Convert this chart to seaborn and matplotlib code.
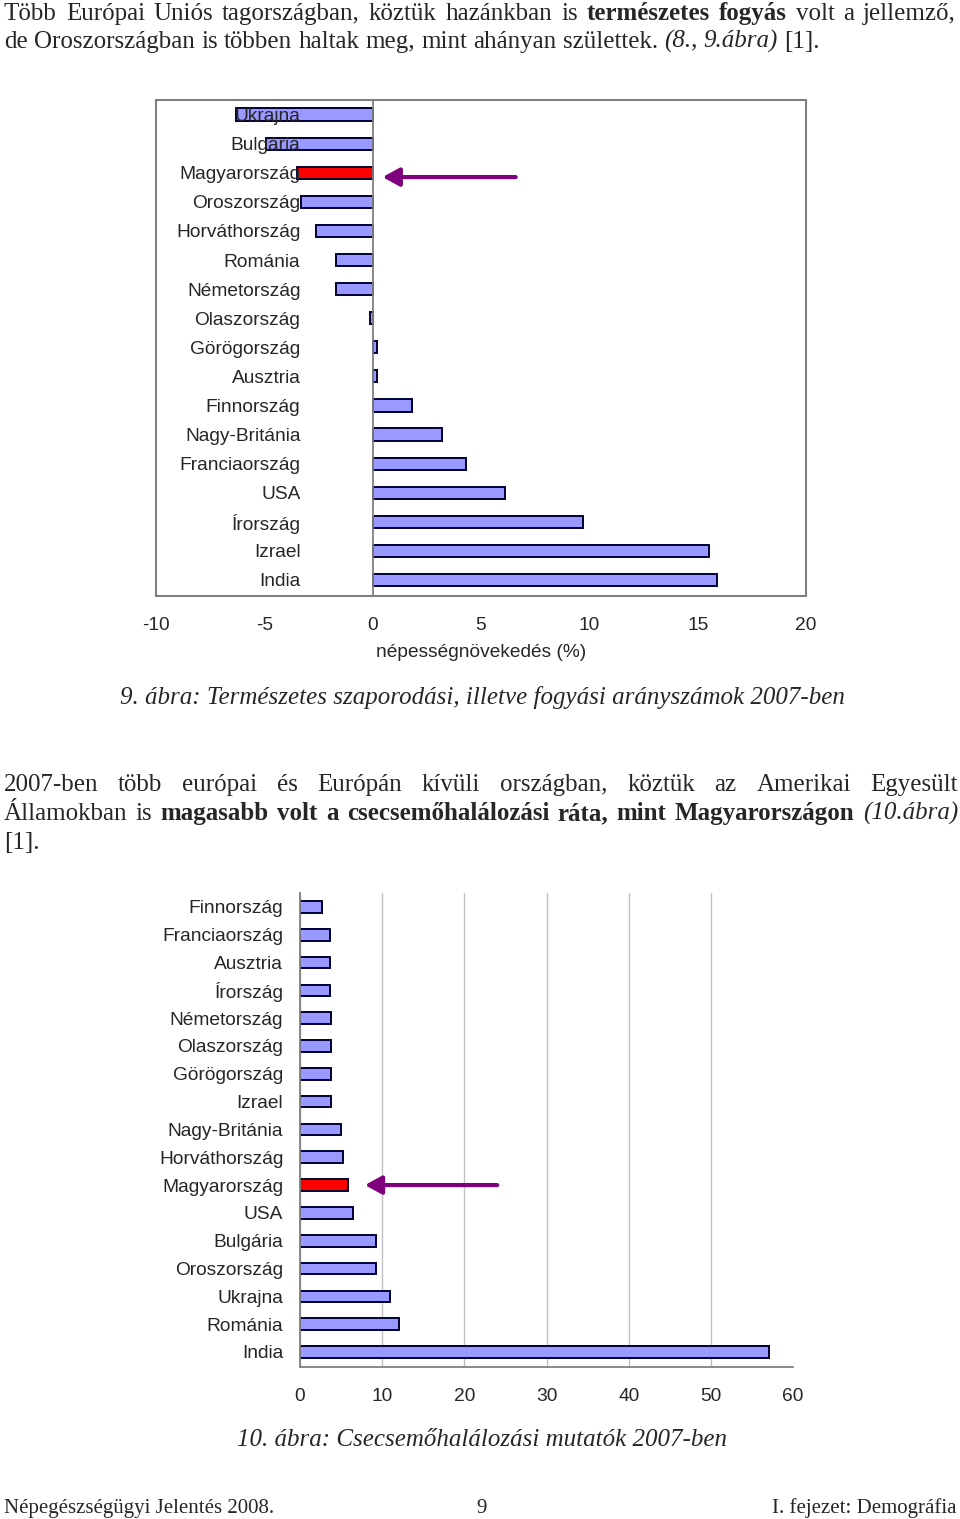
import numpy as np
import pandas as pd
import matplotlib
matplotlib.use("Agg")
import matplotlib.pyplot as plt
import seaborn as sns
from matplotlib.patches import Rectangle

# 9. ábra: természetes szaporodás / fogyás 2007
growth_countries = ["Ukrajna", "Bulgária", "Magyarország", "Oroszország", "Horváthország",
                    "Románia", "Németország", "Olaszország", "Görögország", "Ausztria",
                    "Finnország", "Nagy-Británia", "Franciaország", "USA", "Írország",
                    "Izrael", "India"]
growth_values = [-6.3, -4.9, -3.5, -3.3, -2.6, -1.7, -1.7, -0.1, 0.2, 0.2,
                 1.8, 3.2, 4.3, 6.1, 9.7, 15.5, 15.9]
growth_ticks = [-10, -5, 0, 5, 10, 15, 20]

# 10. ábra: csecsemőhalálozás 2007
infant_countries = ["Finnország", "Franciaország", "Ausztria", "Írország", "Németország",
                    "Olaszország", "Görögország", "Izrael", "Nagy-Británia", "Horváthország",
                    "Magyarország", "USA", "Bulgária", "Oroszország", "Ukrajna",
                    "Románia", "India"]
infant_values = [2.7, 3.7, 3.7, 3.7, 3.8, 3.8, 3.8, 3.8, 5.0, 5.2,
                 5.9, 6.5, 9.2, 9.2, 10.9, 12.0, 57.1]
infant_ticks = [0, 10, 20, 30, 40, 50, 60]

highlight = "Magyarország"

W, H = 960, 1519
SERIF = "Liberation Serif"
SANS = "Liberation Sans"
BLUE = "#9999FF"
RED = "#FF0000"
EDGE = "#000033"
GRAY = "#808080"
PURPLE = "#7F007F"
TXT = 18      # body text size
CH = 13.8     # chart text size

sns.set_style("white")
plt.rcParams["font.family"] = [SANS, "DejaVu Sans"]

fig = plt.figure(figsize=(W / 100, H / 100), dpi=100)


def fx(px):
    return px / W


def fy(px):
    return 1 - px / H


def text_line(runs, y, x0=4, x1=None, size=TXT):
    """place words of a paragraph line, justified when x1 is given"""
    renderer = fig.canvas.get_renderer()
    words = []
    for txt, weight, style in runs:
        for w in txt.split():
            words.append(fig.text(0, fy(y), w, family=SERIF, size=size,
                                  weight=weight, style=style, va="baseline"))
    widths = [t.get_window_extent(renderer).width for t in words]
    if x1 is None:
        gap = 0.25 * size * 100 / 72
    else:
        gap = (x1 - x0 - sum(widths)) / (len(words) - 1)
    x = x0
    for t, w in zip(words, widths):
        t.set_x(fx(x))
        x += w + gap


# paragraph above chart 9
text_line([("Több Európai Uniós tagországban, köztük hazánkban is", "normal", "normal"),
           ("természetes fogyás", "bold", "normal"),
           ("volt a jellemző,", "normal", "normal")], 20, x1=956)
text_line([("de Oroszországban is többen haltak meg, mint ahányan születtek.", "normal", "normal"),
           ("(8., 9.ábra)", "normal", "italic"),
           ("[1].", "normal", "normal")], 48)

# ---- chart 9
ax1 = fig.add_axes([fx(156), fy(596), 650 / W, 496 / H])
df1 = pd.DataFrame({"country": growth_countries, "value": growth_values})
pal1 = {c: (RED if c == highlight else BLUE) for c in growth_countries}
sns.barplot(data=df1, x="value", y="country", hue="country", palette=pal1,
            legend=False, orient="h", width=0.42, saturation=1,
            edgecolor=EDGE, linewidth=1.4, ax=ax1)
ax1.set_axisbelow(False)  # labels sit on top of the bars, like in the original
ax1.set_xlim(-10, 20)
ax1.set_ylim(16.55, -0.48)
ax1.set_xticks(growth_ticks)
ax1.set_xticklabels([str(t) for t in growth_ticks])
ax1.spines["left"].set_position(("data", 0))
for s in ["top", "right"]:
    ax1.spines[s].set_visible(False)
for s in ["left", "bottom"]:
    ax1.spines[s].set_color(GRAY)
    ax1.spines[s].set_linewidth(1.3)
ax1.add_patch(Rectangle((0, 0), 1, 1, transform=ax1.transAxes, fill=False,
                        edgecolor=GRAY, lw=1.5, clip_on=False))
ax1.set_yticks(np.arange(-0.5, len(growth_countries), 1), minor=True)
ax1.tick_params(axis="y", which="major", length=0, pad=52, labelsize=CH)
ax1.tick_params(axis="y", which="minor", length=4, color=GRAY, direction="out")
ax1.tick_params(axis="x", length=5, color=GRAY, pad=10, labelsize=CH)
ax1.set_ylabel("")
ax1.set_xlabel("népességnövekedés (%)", fontsize=CH)
ax1.xaxis.set_label_coords(0.5, -0.097)
ax1.annotate("", xy=(0.46, 2.15), xytext=(6.6, 2.15),
             arrowprops=dict(arrowstyle="-|>,head_length=1.0,head_width=0.55",
                             color=PURPLE, lw=3, mutation_scale=10,
                             shrinkA=0, shrinkB=0))

fig.text(fx(482), fy(704), "9. ábra: Természetes szaporodási, illetve fogyási arányszámok 2007-ben",
         ha="center", va="baseline", family=SERIF, style="italic", size=TXT)

# paragraph above chart 10
text_line([("2007-ben több európai és Európán kívüli országban, köztük az Amerikai Egyesült",
            "normal", "normal")], 791, x1=958)
text_line([("Államokban is", "normal", "normal"),
           ("magasabb volt a csecsemőhalálozási ráta, mint Magyarországon", "bold", "normal"),
           ("(10.ábra)", "normal", "italic")], 820, x1=958)
text_line([("[1].", "normal", "normal")], 849)

# ---- chart 10
ax2 = fig.add_axes([fx(300), fy(1367), 493 / W, 474 / H])
df2 = pd.DataFrame({"country": infant_countries, "value": infant_values})
pal2 = {c: (RED if c == highlight else BLUE) for c in infant_countries}
sns.barplot(data=df2, x="value", y="country", hue="country", palette=pal2,
            legend=False, orient="h", width=0.42, saturation=1,
            edgecolor=EDGE, linewidth=1.4, ax=ax2)
ax2.set_xlim(0, 60)
ax2.set_ylim(16.54, -0.47)
ax2.set_xticks(infant_ticks)
ax2.set_xticklabels([str(t) for t in infant_ticks])
ax2.xaxis.grid(True, color="#C0C0C0", lw=1)
ax2.set_axisbelow(True)
ax2.get_xgridlines()[-1].set_visible(False)
for s in ["top", "right"]:
    ax2.spines[s].set_visible(False)
for s in ["left", "bottom"]:
    ax2.spines[s].set_color(GRAY)
    ax2.spines[s].set_linewidth(1.3)
ax2.set_yticks(np.arange(-0.5, len(infant_countries), 1), minor=True)
ax2.tick_params(axis="y", which="major", length=0, pad=12, labelsize=CH)
ax2.tick_params(axis="y", which="minor", length=4, color=GRAY, direction="out")
ax2.tick_params(axis="x", length=5, color=GRAY, pad=10, labelsize=CH)
ax2.set_ylabel("")
ax2.set_xlabel("")
ax2.annotate("", xy=(7.9, 10), xytext=(24, 10),
             arrowprops=dict(arrowstyle="-|>,head_length=1.0,head_width=0.55",
                             color=PURPLE, lw=3, mutation_scale=10,
                             shrinkA=0, shrinkB=0))

fig.text(fx(482), fy(1446), "10. ábra: Csecsemőhalálozási mutatók 2007-ben",
         ha="center", va="baseline", family=SERIF, style="italic", size=TXT)

# footer
fig.text(fx(4), fy(1513), "Népegészségügyi Jelentés 2008.", ha="left", va="baseline",
         family=SERIF, size=15)
fig.text(fx(482), fy(1513), "9", ha="center", va="baseline", family=SERIF, size=15)
fig.text(fx(956), fy(1513), "I. fejezet: Demográfia", ha="right", va="baseline",
         family=SERIF, size=15)

fig.savefig("out.png", dpi=100)
plt.close(fig)
